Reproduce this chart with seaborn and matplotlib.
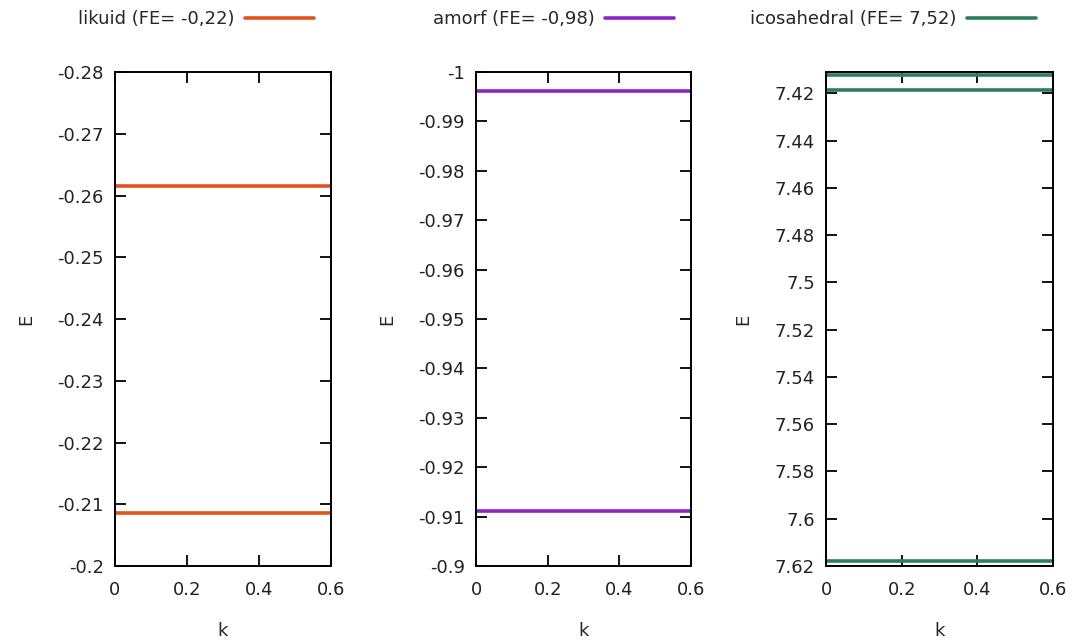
import pandas as pd
import seaborn as sns
import matplotlib.pyplot as plt
from matplotlib.lines import Line2D

# k range for the bands
k_range = [0.0, 0.6]

# band energies per phase (constant along k)
likuid_E = [-0.2616, -0.2086]
amorf_E = [-0.9962, -0.9111]
icosa_E = [7.4122, 7.4185, 7.6180]

names = ['likuid (FE= -0,22)', 'amorf (FE= -0,98)', 'icosahedral (FE= 7,52)']
colors = ['#E2531B', '#8A25C4', '#2C7E5C']

x_ticks = [0, 0.2, 0.4, 0.6]
x_ticklabels = ['0', '0.2', '0.4', '0.6']
y_lims = [(-0.28, -0.2), (-1.0, -0.9), (7.4109, 7.62)]
y_ticks = [
    [-0.28, -0.27, -0.26, -0.25, -0.24, -0.23, -0.22, -0.21, -0.2],
    [-1.0, -0.99, -0.98, -0.97, -0.96, -0.95, -0.94, -0.93, -0.92, -0.91, -0.9],
    [7.42, 7.44, 7.46, 7.48, 7.5, 7.52, 7.54, 7.56, 7.58, 7.6, 7.62],
]


def band_frame(energies):
    rows = []
    for i, e in enumerate(energies):
        for k in k_range:
            rows.append({'band': i, 'k': k, 'E': e})
    return pd.DataFrame(rows)


sns.set_style('ticks')
plt.rcParams['font.family'] = ['DejaVu Sans']
plt.rcParams['font.size'] = 13

fig = plt.figure(figsize=(10.74, 6.44), dpi=100)
boxes = [
    [115 / 1074, 1 - 566 / 644, 216 / 1074, 494 / 644],
    [476 / 1074, 1 - 566 / 644, 215 / 1074, 494 / 644],
    [826 / 1074, 1 - 566 / 644, 227 / 1074, 494 / 644],
]

for box, energies, name, col, ylim, yt in zip(boxes, [likuid_E, amorf_E, icosa_E],
                                              names, colors, y_lims, y_ticks):
    ax = fig.add_axes(box)
    df = band_frame(energies)
    sns.lineplot(data=df, x='k', y='E', units='band', estimator=None,
                 color=col, lw=2.6, ax=ax, legend=False)
    ax.set_xlim(k_range)
    ax.set_ylim(ylim[1], ylim[0])
    ax.set_xticks(x_ticks)
    ax.set_xticklabels(x_ticklabels)
    ax.set_yticks(yt)
    ax.set_yticklabels(['%g' % v for v in yt])
    ax.tick_params(direction='in', length=8, width=1.3, top=True, right=True,
                   labelsize=13, colors='black', labelcolor='#222222')
    ax.tick_params(axis='x', pad=11)
    ax.tick_params(axis='y', pad=8)
    for s in ax.spines.values():
        s.set_linewidth(1.4)
        s.set_color('black')
    ax.set_xlabel('k', fontsize=13, labelpad=16)
    ax.set_ylabel('E', fontsize=13, labelpad=16)
    handle = Line2D([0], [0], color=col, lw=2.6)
    # key sits just above the top-right corner of each panel
    ax.legend([handle], [name], loc='center right',
              bbox_to_anchor=(1 - 10 / box[2] / 1074, 1.107),
              frameon=False, markerfirst=False, handlelength=3.8,
              fontsize=13, borderaxespad=0, handletextpad=0.6)

fig.savefig('out.png', dpi=100)
